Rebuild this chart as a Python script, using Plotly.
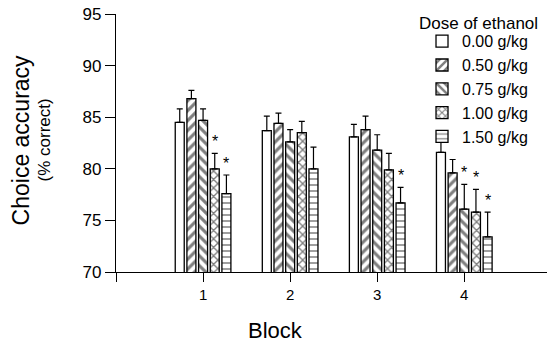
import plotly.graph_objects as go

blocks = [1, 2, 3, 4]
doses = ["0.00 g/kg", "0.50 g/kg", "0.75 g/kg", "1.00 g/kg", "1.50 g/kg"]
acc_000 = [84.5, 83.7, 83.1, 81.6]
acc_050 = [86.8, 84.4, 83.8, 79.6]
acc_075 = [84.7, 82.6, 81.8, 76.1]
acc_100 = [80.0, 83.5, 79.9, 75.8]
acc_150 = [77.6, 80.0, 76.7, 73.4]
sem_000 = [1.3, 1.4, 1.2, 1.3]
sem_050 = [0.8, 1.0, 1.3, 1.3]
sem_075 = [1.1, 1.2, 1.5, 2.4]
sem_100 = [1.5, 1.1, 1.6, 2.2]
sem_150 = [1.8, 2.1, 1.5, 2.4]
# significance markers (1 = asterisk)
sig_000 = [0, 0, 0, 0]
sig_050 = [0, 0, 0, 0]
sig_075 = [0, 0, 0, 1]
sig_100 = [1, 0, 0, 1]
sig_150 = [1, 0, 1, 1]

values = [acc_000, acc_050, acc_075, acc_100, acc_150]
errors = [sem_000, sem_050, sem_075, sem_100, sem_150]
sigs = [sig_000, sig_050, sig_075, sig_100, sig_150]
patterns = ["", "/", "\\", "x", "-"]
sizes = [6, 7, 7, 6, 6]
solid = [0.3, 0.45, 0.45, 0.4, 0.25]

FONT = "Liberation Sans, Arial, sans-serif"
BARGAP = 0.33
GROUPGAP = 0.23

fig = go.Figure()
for i, (name, v, e, p, s, so) in enumerate(zip(doses, values, errors, patterns, sizes, solid)):
    fig.add_trace(go.Bar(
        x=blocks, y=v, name=name,
        marker=dict(color="white", line=dict(color="black", width=1.3),
                    pattern=dict(shape=p, fgcolor="black", bgcolor="white",
                                 size=s, solidity=so)),
        error_y=dict(type="data", array=e, arrayminus=[0] * len(e), symmetric=False,
                     color="black", thickness=1.2, width=3),
    ))

# asterisks above error bars
n = len(doses)
slot = (1 - BARGAP) / n
for i in range(n):
    for j, b in enumerate(blocks):
        if sigs[i][j]:
            fig.add_annotation(x=b + (i - (n - 1) / 2) * slot, y=values[i][j] + errors[i][j],
                               text="*", showarrow=False, yanchor="bottom", yshift=1,
                               font=dict(size=16, family=FONT, color="black"))

fig.add_annotation(xref="paper", yref="paper", x=0, y=0.51, xshift=-95, xanchor="center",
                   yanchor="middle", text="Choice accuracy", textangle=-90, showarrow=False,
                   font=dict(size=23, family=FONT, color="black"))
fig.add_annotation(xref="paper", yref="paper", x=0, y=0.51, xshift=-72, xanchor="center",
                   yanchor="middle", text="(% correct)", textangle=-90, showarrow=False,
                   font=dict(size=17, family=FONT, color="black"))
fig.add_annotation(xref="paper", yref="paper", x=0.371, y=-0.225, xanchor="center",
                   text="Block", showarrow=False, yanchor="middle",
                   font=dict(size=22, family=FONT, color="black"))
# legend title
fig.add_annotation(xref="paper", yref="paper", x=1, xshift=-7, y=1, yshift=-9,
                   xanchor="right", yanchor="middle", text="Dose of ethanol",
                   showarrow=False, font=dict(size=17, family=FONT, color="black"))

fig.update_layout(
    width=547, height=346,
    margin=dict(l=116, r=0, t=14, b=74),
    paper_bgcolor="white", plot_bgcolor="white",
    barmode="group", bargap=BARGAP, bargroupgap=GROUPGAP,
    font=dict(family=FONT, color="black"),
    showlegend=True,
    legend=dict(font=dict(size=16, family=FONT), x=0.71, xanchor="left", y=0.96,
                yanchor="top", bgcolor="rgba(0,0,0,0)", tracegroupgap=0),
    xaxis=dict(range=[0, 4.95], tickvals=[0] + blocks, ticktext=[""] + [str(b) for b in blocks],
               ticks="outside", ticklen=9, tickwidth=1.3, tickcolor="black",
               showline=True, linecolor="black", linewidth=1.3, showgrid=False,
               zeroline=False, tickfont=dict(size=15, family=FONT)),
    yaxis=dict(range=[70, 95], tickvals=[70, 75, 80, 85, 90, 95],
               ticks="outside", ticklen=10, tickwidth=1.3, tickcolor="black",
               showline=True, linecolor="black", linewidth=1.3, showgrid=False,
               zeroline=False, tickfont=dict(size=17, family=FONT)),
)

fig.write_html("out.html", config={"displayModeBar": False},
               post_script="document.body.style.margin='0';")
